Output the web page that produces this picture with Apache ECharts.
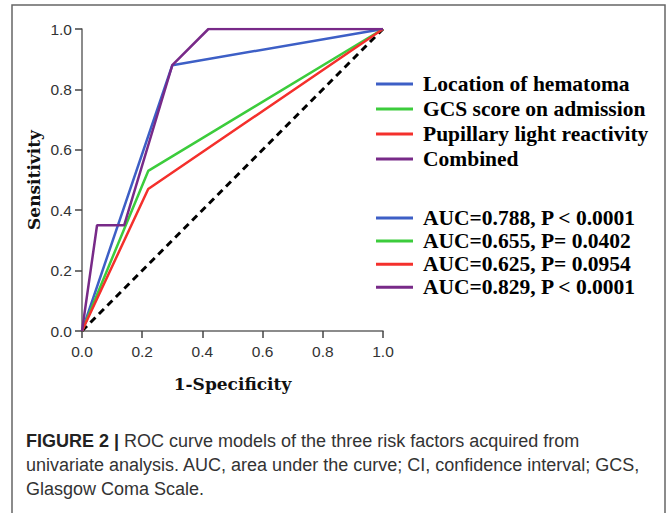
<!DOCTYPE html>
<html><head><meta charset="utf-8">
<script src="https://cdn.jsdelivr.net/npm/echarts@6/dist/echarts.min.js"></script>
<style>html,body{margin:0;padding:0;background:#fff}#c{width:667px;height:513px}</style>
</head><body><div id="c"></div>
<script>
// ---- data ----
const seriesNames = ['Location of hematoma', 'GCS score on admission', 'Pupillary light reactivity', 'Combined'];
const aucLabels = ['AUC=0.788, P < 0.0001', 'AUC=0.655, P= 0.0402', 'AUC=0.625, P= 0.0954', 'AUC=0.829, P < 0.0001'];
const locationX = [0, 0.30, 1];
const locationY = [0, 0.88, 1];
const gcsX = [0, 0.22, 1];
const gcsY = [0, 0.53, 1];
const pupilX = [0, 0.22, 1];
const pupilY = [0, 0.47, 1];
const combinedX = [0, 0.05, 0.14, 0.30, 0.42, 1];
const combinedY = [0, 0.35, 0.35, 0.88, 1, 1];
const refX = [0, 1];
const refY = [0, 1];
const colors = ['#3d5fc6', '#3ccc3c', '#f4302c', '#782a88'];

const zip = (xs, ys) => xs.map((x, i) => [x, ys[i]]);
const lineData = [zip(locationX, locationY), zip(gcsX, gcsY), zip(pupilX, pupilY), zip(combinedX, combinedY)];

const chart = echarts.init(document.getElementById('c'), null, {renderer: 'svg'});
const serif = '"Liberation Serif", "Times New Roman", serif';
const slab = '"DejaVu Serif", serif';
const sans = '"Liberation Sans", Arial, sans-serif';

const axisCommon = {
  type: 'value', min: 0, max: 1, interval: 0.2,
  axisLine: {show: true, lineStyle: {color: '#666', width: 1.5}},
  axisTick: {show: true, inside: false, length: 7, lineStyle: {color: '#444', width: 1.5}},
  splitLine: {show: false},
  axisLabel: {color: '#333', fontFamily: sans, fontSize: 15.5, formatter: v => v.toFixed(1)},
  nameLocation: 'middle',
  nameTextStyle: {fontFamily: slab, fontWeight: 'bold', fontSize: 17, color: '#111'}
};

const series = [{
  type: 'line', name: 'ref', data: zip(refX, refY), showSymbol: false, symbol: 'none',
  lineStyle: {color: '#000', width: 3, type: [7, 5]}, silent: true, z: 1
}];
[2, 1, 0, 3].forEach(i => {
  series.push({
    type: 'line', name: seriesNames[i], data: lineData[i], showSymbol: false, symbol: 'none',
    lineStyle: {color: colors[i], width: 2.5}, itemStyle: {color: colors[i]}, z: 2 + i
  });
});

const legendCommon = {
  orient: 'vertical', left: 376, icon: 'rect', itemWidth: 37, itemHeight: 3,
  selectedMode: false, data: seriesNames, padding: 0,
  textStyle: {fontFamily: serif, fontWeight: 'bold', fontSize: 21.5, color: '#000', padding: [0, 0, 0, 5], lineHeight: 20}
};

chart.setOption({
  animation: false,
  color: colors,
  grid: {left: 82, right: 284, top: 29, bottom: 182},
  xAxis: Object.assign({}, axisCommon, {name: '1-Specificity', nameGap: 44,
    axisLabel: Object.assign({}, axisCommon.axisLabel, {margin: 12})}),
  yAxis: Object.assign({}, axisCommon, {name: 'Sensitivity', nameGap: 40,
    axisLabel: Object.assign({}, axisCommon.axisLabel, {margin: 10})}),
  legend: [
    Object.assign({}, legendCommon, {top: 73, itemGap: 3}),
    Object.assign({}, legendCommon, {top: 207, itemGap: 1.1, formatter: name => aucLabels[seriesNames.indexOf(name)]})
  ],
  series: series,
  graphic: [
    {type: 'rect', shape: {x: 12, y: 5, width: 653, height: 520}, style: {fill: 'none', stroke: '#666', lineWidth: 1.5}, silent: true},
    {type: 'text', left: 26, top: 429, style: {
      text: '{b|FIGURE 2 |} ROC curve models of the three risk factors acquired from\nunivariate analysis. AUC, area under the curve; CI, confidence interval; GCS,\nGlasgow Coma Scale.',
      fontFamily: sans, fontSize: 18, lineHeight: 24, fill: '#333',
      rich: {b: {fontFamily: sans, fontSize: 18, fontWeight: 'bold', fill: '#222', lineHeight: 24}}
    }}
  ]
});
</script></body></html>
